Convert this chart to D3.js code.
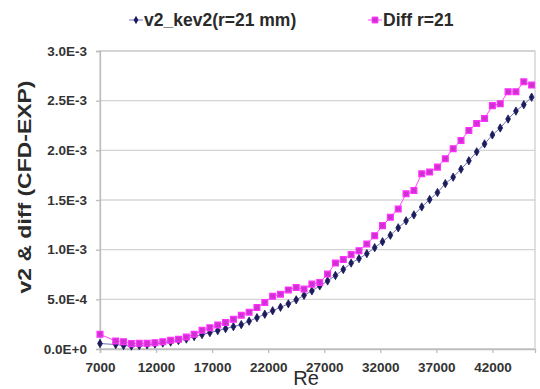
<!DOCTYPE html>
<html>
<head>
<meta charset="utf-8">
<script src="https://cdn.jsdelivr.net/npm/d3@7"></script>
<style>
  body { margin: 0; background: #fff; }
  svg { display: block; font-family: "Liberation Sans", Arial, sans-serif; }
</style>
</head>
<body>
<svg id="chart" width="540" height="389"></svg>
<script>
// Reynolds numbers (x)
var reValues = [7000, 8400, 9100, 9800, 10500, 11200, 11900, 12600, 13300, 14000,
  14700, 15400, 16100, 16800, 17500, 18200, 18900, 19600, 20300, 21000,
  21700, 22400, 23100, 23800, 24500, 25200, 25900, 26600, 27300, 28000,
  28700, 29400, 30100, 30800, 31500, 32200, 32900, 33600, 34300, 35000,
  35700, 36400, 37100, 37800, 38500, 39200, 39900, 40600, 41300, 42000,
  42700, 43400, 44100, 44800, 45500];

// v2_kev2 (r=21 mm), in units of 1E-3
var v2Kev2 = [0.055, 0.045, 0.035, 0.030, 0.035, 0.042, 0.050, 0.060, 0.070, 0.085,
  0.100, 0.125, 0.145, 0.165, 0.185, 0.205, 0.225, 0.245, 0.280, 0.315,
  0.350, 0.385, 0.420, 0.455, 0.495, 0.540, 0.585, 0.635, 0.685, 0.740,
  0.800, 0.865, 0.910, 0.960, 1.020, 1.080, 1.145, 1.220, 1.290, 1.350,
  1.430, 1.505, 1.575, 1.665, 1.730, 1.810, 1.895, 1.985, 2.065, 2.155,
  2.225, 2.315, 2.395, 2.460, 2.535];

// Diff r=21, in units of 1E-3
var diffR21 = [0.148, 0.081, 0.074, 0.054, 0.057, 0.057, 0.064, 0.074, 0.088, 0.098,
  0.121, 0.148, 0.189, 0.215, 0.242, 0.266, 0.300, 0.340, 0.370, 0.417,
  0.468, 0.530, 0.552, 0.595, 0.619, 0.603, 0.653, 0.670, 0.754, 0.865,
  0.900, 0.950, 0.990, 1.057, 1.141, 1.242, 1.326, 1.410, 1.562, 1.596,
  1.764, 1.781, 1.831, 1.916, 2.017, 2.100, 2.200, 2.270, 2.320, 2.450,
  2.470, 2.590, 2.590, 2.690, 2.657];

var xTicks = [7000, 12000, 17000, 22000, 27000, 32000, 37000, 42000];
var yTicks = [0, 0.0005, 0.001, 0.0015, 0.002, 0.0025, 0.003];

var seriesNames = ["v2_kev2(r=21 mm)", "Diff r=21"];

var svg = d3.select("#chart");
var margin = { left: 100, right: 5, top: 51, bottom: 40 };
var W = 540, H = 389;

var x = d3.scaleLinear().domain([7000, 45800]).range([margin.left, W - margin.right]);
var y = d3.scaleLinear().domain([0, 0.003]).range([H - margin.bottom, margin.top]);

var labelColor = "#333";
var gridColor = "#d4d4d4";

// gridlines
svg.append("g")
  .selectAll("line")
  .data(yTicks)
  .enter()
  .append("line")
  .attr("x1", x.range()[0])
  .attr("x2", x.range()[1])
  .attr("y1", d => y(d))
  .attr("y2", d => y(d))
  .attr("stroke", gridColor)
  .attr("stroke-width", 1.3);

// plot border
svg.append("rect")
  .attr("x", x.range()[0])
  .attr("y", y.range()[1])
  .attr("width", x.range()[1] - x.range()[0])
  .attr("height", y.range()[0] - y.range()[1])
  .attr("fill", "none")
  .attr("stroke", "#cfcfcf")
  .attr("stroke-width", 1.3);

var fmtY = d => d3.format(".1e")(d).toUpperCase();

var yAxis = svg.append("g")
  .attr("transform", `translate(${x.range()[0]},0)`)
  .call(d3.axisLeft(y).tickValues(yTicks).tickFormat(fmtY).tickSize(4).tickPadding(9));

var xAxis = svg.append("g")
  .attr("transform", `translate(0,${y.range()[0]})`)
  .call(d3.axisBottom(x).tickValues(xTicks).tickFormat(d3.format("d")).tickSize(4).tickPadding(9));

[xAxis, yAxis].forEach(function(ax) {
  ax.select(".domain").attr("stroke", "#bdbdbd").attr("stroke-width", 1.3);
  ax.selectAll(".tick line").attr("stroke", "#bdbdbd").attr("stroke-width", 1.3);
  ax.selectAll(".tick text")
    .attr("fill", labelColor)
    .attr("font-size", 13.5)
    .attr("font-weight", "bold")
    .attr("font-family", "'Liberation Sans', Arial, sans-serif");
});

// series
var navyData = reValues.map((r, i) => ({ re: r, v: v2Kev2[i] * 1e-3 }));
var pinkData = reValues.map((r, i) => ({ re: r, v: diffR21[i] * 1e-3 }));

var line = d3.line().x(d => x(d.re)).y(d => y(d.v));

svg.append("path")
  .datum(pinkData)
  .attr("d", line)
  .attr("fill", "none")
  .attr("stroke", "#ff40ff")
  .attr("stroke-width", 1);

svg.append("path")
  .datum(navyData)
  .attr("d", line)
  .attr("fill", "none")
  .attr("stroke", "#7070c0")
  .attr("stroke-width", 1);

var diamond = d3.symbol().type(d3.symbolDiamond).size(20);
var square = d3.symbol().type(d3.symbolSquare).size(34);

svg.append("g")
  .selectAll("path")
  .data(navyData)
  .enter()
  .append("path")
  .attr("d", diamond)
  .attr("transform", d => `translate(${x(d.re)},${y(d.v)})`)
  .attr("fill", "#1c1c5c")
  .attr("stroke", "#1c1c5c")
  .attr("stroke-width", 0.8);

svg.append("g")
  .selectAll("path")
  .data(pinkData)
  .enter()
  .append("path")
  .attr("d", square)
  .attr("transform", d => `translate(${x(d.re)},${y(d.v)})`)
  .attr("fill", "#d030d0")
  .attr("stroke", "#ff30ff")
  .attr("stroke-width", 1.2);

// legend
var legend = svg.append("g").attr("font-weight", "bold").attr("font-size", 17.5).attr("fill", "#2a2a2a");

var lg1 = legend.append("g").attr("transform", "translate(129,20)");
lg1.append("line").attr("x1", 0).attr("x2", 14).attr("stroke", "#7070c0");
lg1.append("path").attr("d", diamond).attr("transform", "translate(7,0)").attr("fill", "#1c1c5c");
lg1.append("text").attr("x", 15).attr("dy", "0.35em").text(seriesNames[0]);

var lg2 = legend.append("g").attr("transform", "translate(368,20)");
lg2.append("line").attr("x1", 0).attr("x2", 14).attr("stroke", "#ff40ff");
lg2.append("path").attr("d", square).attr("transform", "translate(7,0)").attr("fill", "#d030d0").attr("stroke", "#ff30ff");
lg2.append("text").attr("x", 15).attr("dy", "0.35em").text(seriesNames[1]);

// axis titles
svg.append("text")
  .attr("transform", `translate(31,${(80 + 294) / 2}) rotate(-90)`)
  .attr("text-anchor", "middle")
  .attr("font-size", 19)
  .attr("font-weight", "bold")
  .attr("fill", "#2a2a2a")
  .attr("textLength", 213)
  .attr("lengthAdjust", "spacingAndGlyphs")
  .text("v2 & diff (CFD-EXP)");

svg.append("text")
  .attr("x", 306)
  .attr("y", 385)
  .attr("text-anchor", "middle")
  .attr("font-size", 20)
  .attr("fill", "#2a2a2a")
  .text("Re");
</script>
</body>
</html>
